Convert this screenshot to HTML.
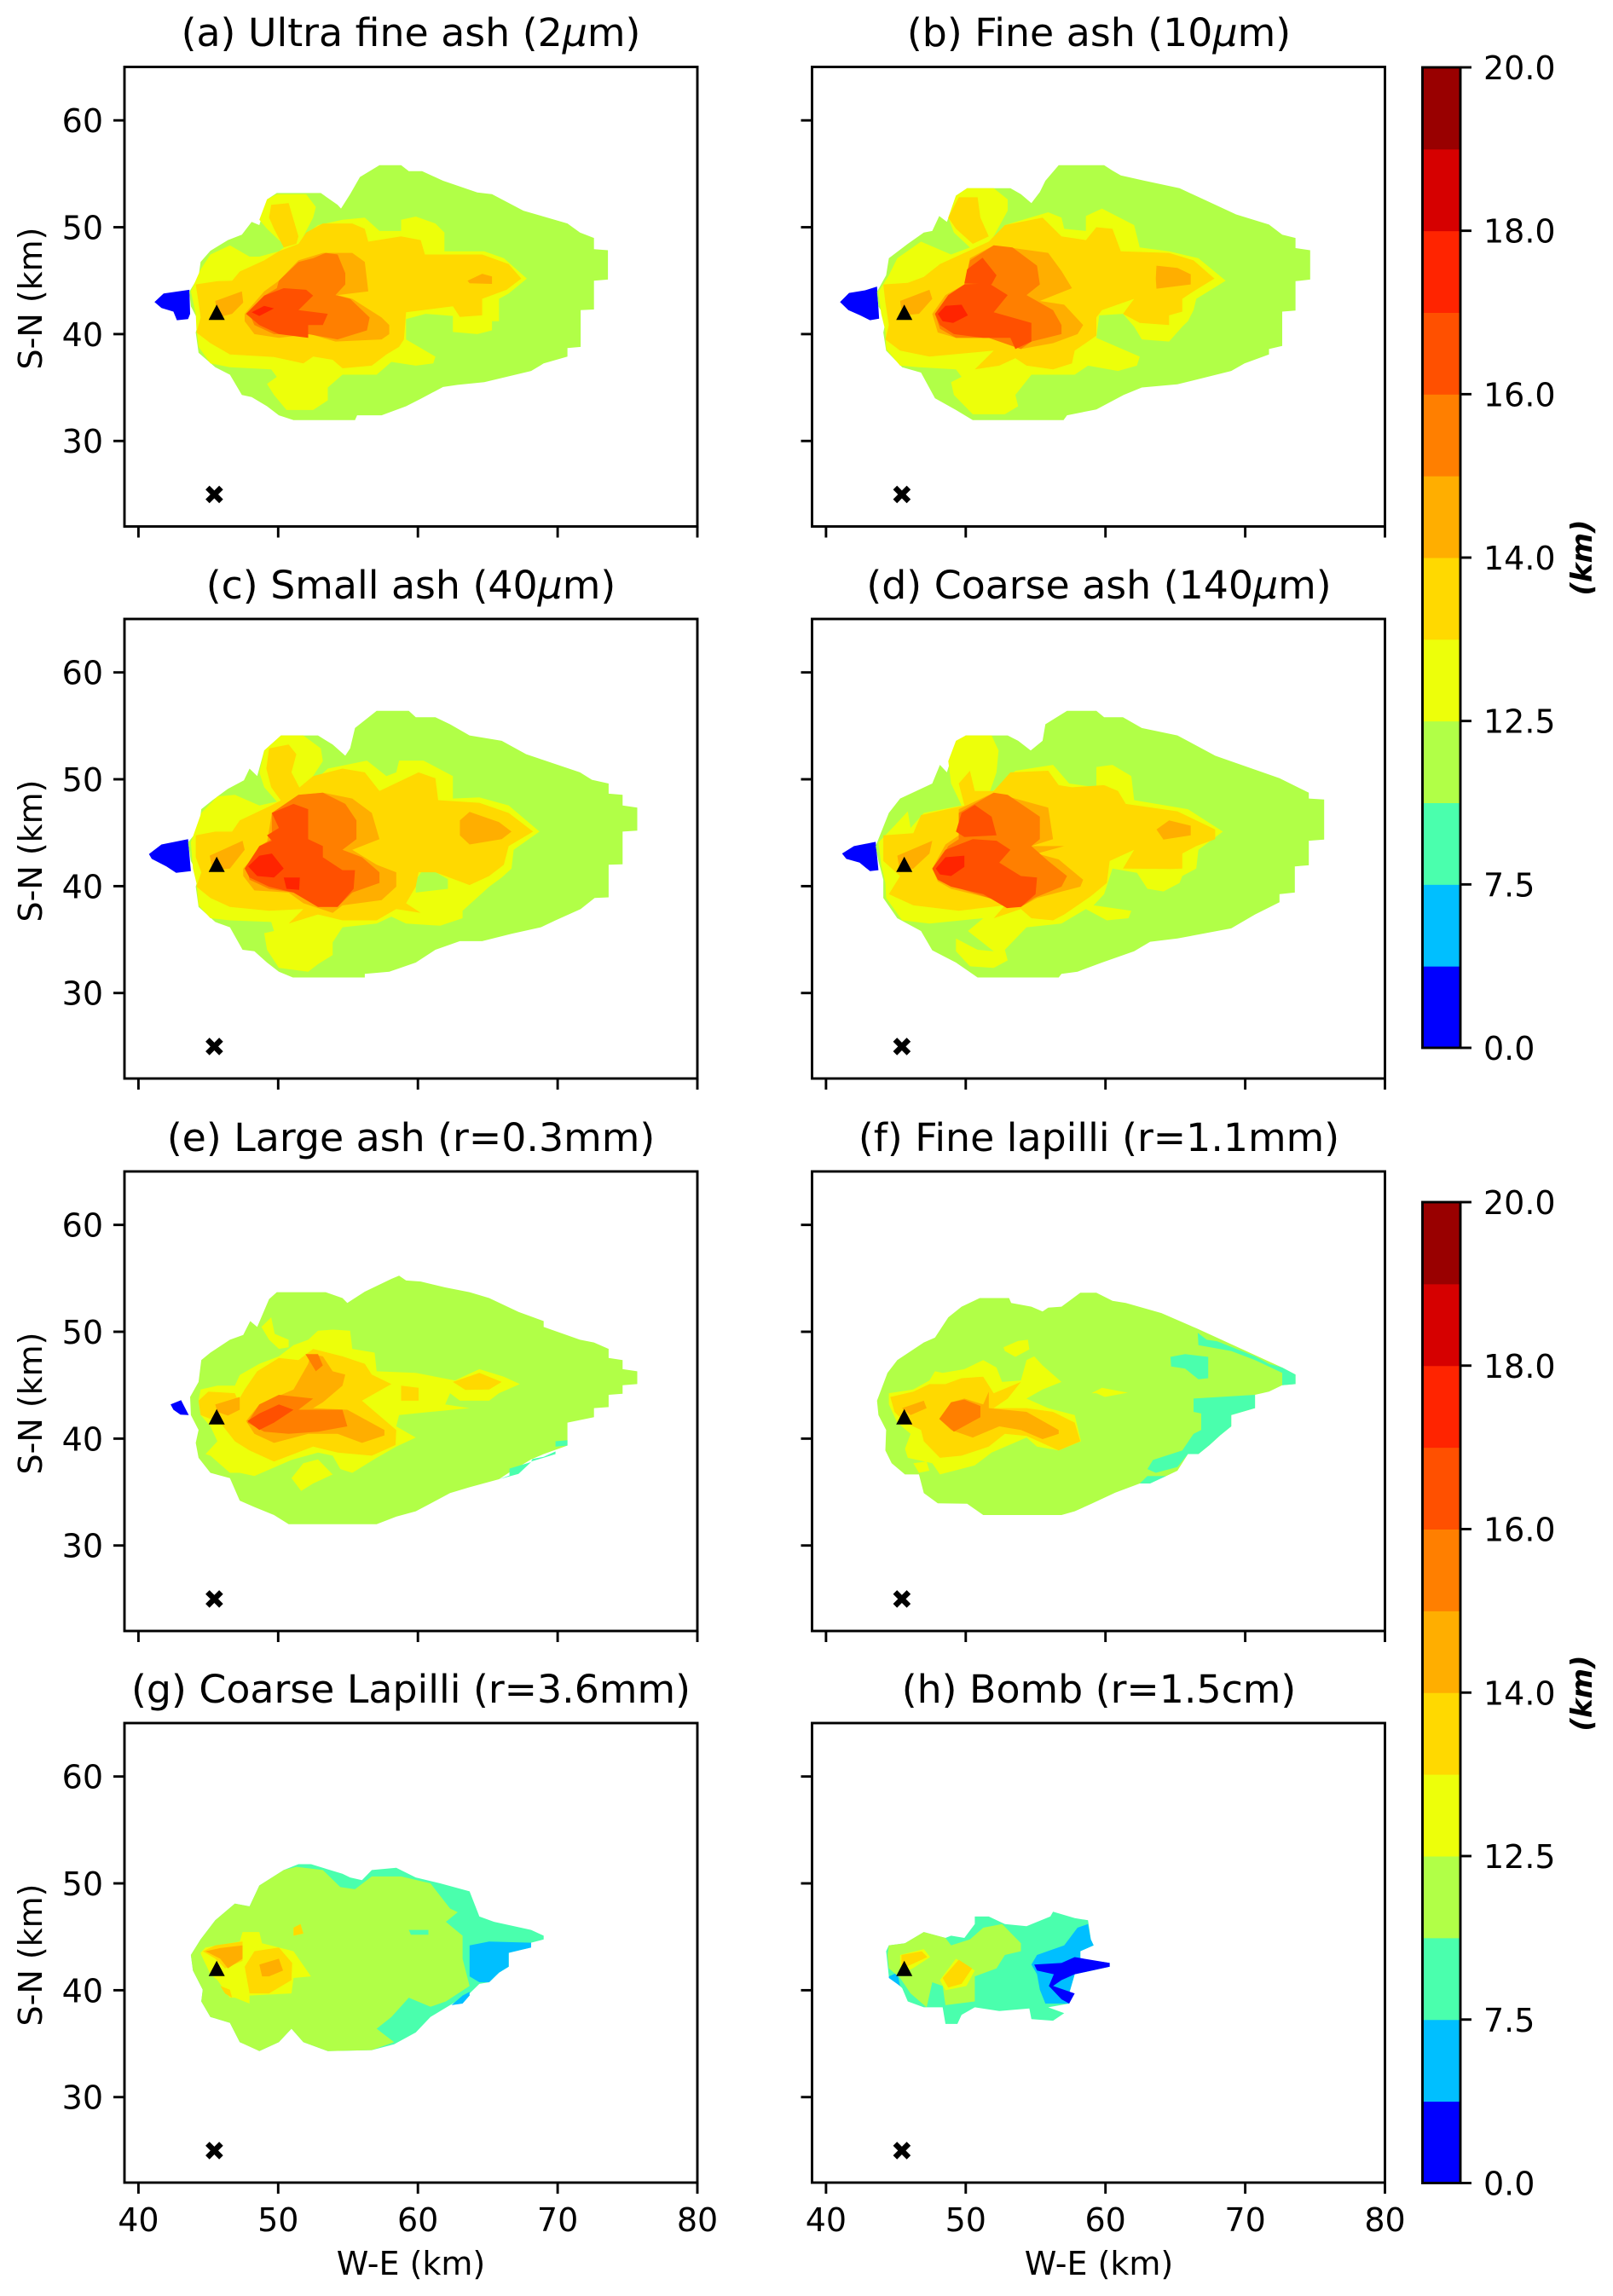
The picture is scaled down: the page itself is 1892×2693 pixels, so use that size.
<!DOCTYPE html>
<html lang="en">
<head>
<meta charset="utf-8">
<title>Plume top height by particle size</title>
<style>
html,body{margin:0;padding:0;background:#fff}
svg{display:block}
text{font-family:"DejaVu Sans","Liberation Sans",sans-serif;fill:#000}
.ttl{font-size:45.8px;text-anchor:middle}
.lab{font-size:38px;text-anchor:middle}
.tick{font-size:38px}
.cbl{font-size:34px;font-weight:bold;font-style:italic;text-anchor:middle}
</style>
</head>
<body>
<svg id="fig" xmlns="http://www.w3.org/2000/svg" width="1892" height="2693" viewBox="0 0 1892 2693">
<rect width="1892" height="2693" fill="#fff"/>
<g id="marks"></g>
<text class="ttl" x="482" y="54">(a) Ultra fine ash (2<tspan font-style="italic">μ</tspan>m)</text>
<text class="ttl" x="1289" y="54">(b) Fine ash (10<tspan font-style="italic">μ</tspan>m)</text>
<text class="ttl" x="482" y="702">(c) Small ash (40<tspan font-style="italic">μ</tspan>m)</text>
<text class="ttl" x="1289" y="702">(d) Coarse ash (140<tspan font-style="italic">μ</tspan>m)</text>
<text class="ttl" x="482" y="1350">(e) Large ash (r=0.3mm)</text>
<text class="ttl" x="1289" y="1350">(f) Fine lapilli (r=1.1mm)</text>
<text class="ttl" x="482" y="1997">(g) Coarse Lapilli (r=3.6mm)</text>
<text class="ttl" x="1289" y="1997">(h) Bomb (r=1.5cm)</text>
<text class="lab" transform="translate(49,350) rotate(-90)">S-N (km)</text>
<text class="lab" transform="translate(49,998) rotate(-90)">S-N (km)</text>
<text class="lab" transform="translate(49,1646) rotate(-90)">S-N (km)</text>
<text class="lab" transform="translate(49,2293) rotate(-90)">S-N (km)</text>
<text class="lab" x="482" y="2668">W-E (km)</text>
<text class="lab" x="1289" y="2668">W-E (km)</text>
<text class="cbl" transform="translate(1867,654) rotate(-90)">(km)</text>
<text class="cbl" transform="translate(1867,1986) rotate(-90)">(km)</text>
</svg>
<script>
// ---- axis and colorbar values ----
const xTicks = [40, 50, 60, 70, 80];
const yTicks = [30, 40, 50, 60];
const cbarTickLabels = ["0.0", "7.5", "12.5", "14.0", "16.0", "18.0", "20.0"];
const cbarTickBands = [0, 2, 4, 6, 8, 10, 12];
const bandColors = ["#0000ff","#00bfff","#4affad","#b1ff47","#edff0a","#ffd900","#ffae00","#ff7f00","#ff5000","#ff2400","#d60000","#990000"];
const ventLocation = [45.6, 42];
const stationLocation = [45.43, 25];

// ---- contour outlines in km (x,y,x,y,...) ----
const aBlue = [41.15,43,41.8,43.8,42.85,44,43.65,44.15,43.7,41.9,43.55,41.4,42.75,41.3,42.5,42.1,41.65,42.45];
const aGreen = [43.64,43.97,44.3,45.4,44.45,46.75,45.15,47.8,46.4,48.8,47.4,49.3,48.1,50.5,48.65,50.2,49.2,52.6,49.9,53.2,53.05,53.2,54.25,52.1,54.5,51.75,55.15,53.1,55.85,54.7,57.25,55.8,58.8,55.8,59.35,55.25,60.3,55.25,61.8,54.35,64.25,53.25,65.3,53.1,67.55,51.55,70.7,50.35,71.6,49.5,72.6,49,72.6,47.95,73.6,47.85,73.6,45.1,72.6,45,72.6,42.3,71.65,42.25,71.65,38.8,70.7,38.7,70.7,37.9,69,37.25,68.1,36.55,64.75,35.5,62.85,35.25,61.8,35.05,60.2,33.95,59.15,33.25,57.4,32.4,55.65,32.4,55.5,31.95,51.1,31.95,50.05,32.4,49.2,33.25,48.1,34.1,47.4,34.3,46.55,36.2,45.5,36.9,44.3,38.25,44.1,40.15,44.3,41.2,43.75,42.6];
const aYellow = [43.75,44,44.45,46.05,45.15,47.45,46.55,48.3,47.95,47.25,48.65,47.25,50.05,47.75,50.6,48.3,50.05,48.8,49.2,49.85,48.65,50.7,49.2,52.6,49.9,53.1,52,53.1,52.7,51.9,52.5,50.9,51.8,49.15,52.85,50.2,54.6,50.7,56.2,50.9,57.25,49.65,58.8,49.65,58.8,50.7,59.85,51,61.25,50.35,61.9,49.5,61.9,47.75,64.75,47.75,66.15,47.1,67.8,45.2,66.5,43.8,65.8,43.3,65.8,41.2,65.3,41.2,65.3,40.35,64.25,40,62.5,40.2,62.5,41.7,60.55,41.9,59.15,41.4,59.15,39.5,61.25,37.9,61.1,37.25,59.85,37.05,58.1,37.4,57.05,36.2,54.6,36.2,53.55,35,53.55,33.8,52.5,32.9,50.6,32.9,49.7,34.3,49.2,35.35,49.9,36,49.5,36.7,46.55,36.9,45.15,37.25,44.3,38.8,44.15,40.5,44.1,41.9];
const aGold = [44.1,44.65,45.65,44.95,46.7,45,47.25,45.85,49,46.9,50.05,47.75,51.45,48.45,52,49.5,53.2,50.35,55.3,50.35,56.2,49.85,56.45,48.65,58.8,49.15,60.2,48.8,60.5,47.45,64.6,47.45,66.5,46.55,67.4,45.2,66.35,44.15,64.6,43.3,64.6,41.75,63,41.6,62.5,42.6,59.15,42.05,59,39.5,58.65,38.8,57.75,38.1,56.7,37.05,54.6,36.8,53.9,37.6,52.5,37.9,51.8,37.25,49.7,37.85,46.55,38.1,45.15,39.15,44.15,40.15,44.45,41.55,44.3,42.95];
const aGoldFinger = [49.5,52.1,50.75,52.25,51.45,49.15,51.3,48.45,50.4,48.1,49.7,49.85,49.35,50.9];
const aAmberVent = [45.5,43.1,47.4,44,47.5,42.95,46.7,41.9,45.65,41.55];
const aAmberMain = [47.6,41.9,49,44,50.05,45,51.45,46.9,53.2,47.6,55.3,47.6,56.2,46.75,56.45,44,54.25,43.65,55.3,43.3,57.4,41.55,57.95,40.85,57.95,40,57.4,39.5,54.1,39.3,52.3,40,50.05,39.65,48.3,40,47.6,41.2];
const aAmberTail = [63.55,45,64.6,45.65,65.3,45.4,65.3,44.7,63.7,44.75];
const aOrange = [47.95,41.9,49,43.6,49.9,44.3,50.05,45,51.45,46.75,52.5,47.1,53.4,47.6,54.25,47.45,54.8,45.7,54.8,44.65,54.1,43.65,55.15,43.3,56.55,41.55,56.35,40.35,54.25,39.5,52.15,40,49.7,40,48.3,40.85];
const aDeep = [47.7,41.9,49,43.6,50.4,44.3,52,44.15,52.5,43.6,51.45,42.25,53.55,41.9,53.2,40.85,52.15,40.85,52.15,39.65,50.05,40,48.65,40.85];
const aRed = [48.1,42.05,49,42.65,49.7,42.4,48.65,41.7];

const bBlue = [41,43,41.65,43.85,42.8,44.1,43.65,44.45,43.8,41.45,43.15,41.3,42.45,41.75,41.6,42.25];
const bGreen = [43.65,43.97,44.3,45.5,44.5,47.1,45.85,48.45,47,49.5,47.6,49.65,48.1,51.05,48.65,50.5,49.3,52.95,50.1,53.65,53.2,53.65,53.95,53.1,54.7,52.25,55.3,53.3,55.7,54.35,56.65,55.8,59.9,55.8,60.5,55.3,61.1,54.85,62.8,54.35,65.3,53.65,66.7,52.8,69.35,51.2,71.7,50.25,72.65,49.3,73.6,49,73.6,48.05,74.65,47.85,74.65,45.1,73.6,44.95,73.6,42.2,72.65,42.1,72.65,38.9,71.7,38.6,71.7,38.1,69.95,37.25,69,36.55,65.15,35.3,62.6,35,61.3,34.3,59.35,32.95,57.25,32.4,57,31.95,50.5,31.95,49.3,32.9,47.8,34,46.8,36.4,45.45,36.9,44.3,38.45,44.1,40.15,44.3,41.4,43.75,42.6];
const bYellow = [43.75,43.97,44.5,45.5,45.1,47.1,46.8,48.65,48.95,47.45,50.3,48.1,49.15,49.5,48.75,50.9,49.3,52.95,50.1,53.65,52,53.65,53,52.6,53,51.55,51.85,48.8,52.8,50.2,55.9,51.4,56.85,50.9,57.05,49.85,58.6,49.65,58.6,51.05,59.75,51.75,62.05,50.2,62.45,48.1,64.55,47.75,66.65,47.1,68.6,45,66.5,43.3,66.3,42.25,65.9,41.2,65.5,40.7,64.55,39.3,62.6,39.5,62.05,40.7,61.25,41.9,59.55,41.75,59.35,39.65,62.45,37.9,62.25,37.05,60.9,36.55,58.75,37.05,57.8,36.2,54.7,36.2,53.55,34.3,53.75,33.25,52.8,32.5,50.5,32.5,49.15,34.3,48.95,35.5,49.7,36,49.3,36.7,46.65,36.9,45.3,37.05,44.3,38.6,44.25,40.3,43.95,41.9];
const bGold = [44.1,44.65,45.85,44.8,47,45.35,48.15,46.55,49.9,47.6,51.65,48.65,52.8,50.2,55.5,50.9,56.85,49.15,58.6,48.8,59.35,50,60.5,49.85,61.1,47.75,64.55,47.6,66.3,46.9,67.8,45.2,66.3,44,65.5,43.3,65.5,42.1,64.55,41.75,64.55,40.85,62.45,41.05,61.25,41.9,62.05,43.3,59.75,42.25,59.35,41.55,59.35,39.85,57.8,38.45,57.6,37.25,56.25,36.7,54.35,37.05,53.55,37.75,52.4,37.05,50.65,36.7,52,38.45,47.4,37.9,45.3,38.45,44.25,39.5,44.5,40.85,44.25,42.95];
const bGoldFinger = [49.5,52.8,50.85,52.8,51.05,50.9,51.65,49.15,50.5,48.45,49.3,49.85,48.75,50.9];
const bAmberVent = [45.3,43.1,47.4,44.15,47.6,43.3,46.65,41.9,45.45,41.75];
const bAmberMain = [47.6,41.9,48.55,43.65,49.9,44.65,50.3,47.1,52,48.3,55.9,47.6,56.85,45.9,57.6,44.3,55.3,43.1,57.05,42.75,58.4,40.85,58,40,56.25,39.15,53.95,38.6,51.65,39.65,49.3,39.65,48,40.15];
const bAmberTail = [63.6,45.2,63.65,46.4,65.15,46.2,66.1,45.6,66.1,44.65,63.65,44.25];
const bOrange = [47.8,41.9,48.75,43.65,49.9,44.65,50.3,46.9,52,48.3,53.35,48.1,55.1,46.4,55.3,44.65,54.35,43.65,56.25,42.25,56.85,40.85,56.85,40,54.7,39.3,53.95,38.6,51.65,39.65,49.3,39.65,48.15,40.5];
const bDeep = [47.8,41.9,48.75,43.65,49.9,44.65,51.65,44.75,53,43.65,52,42.05,54.7,41.05,54.7,39.3,53.55,38.6,53.2,39.65,51.25,39.65,49.15,40,48.15,40.85];
const bDeepUpper = [50.1,46.05,51.2,47.15,52.2,45.5,51.85,44.65,49.9,44.75];
const bRed = [48,41.9,48.55,42.65,49.7,42.75,50.15,41.75,49.1,41.05,48.35,41.2];

const cBlue = [40.75,43,41.65,43.9,43.55,44.4,43.75,41.4,42.7,41.25,42,41.85,40.95,42.55];
const cGreen = [43.55,44.1,44.3,45.3,44.5,47.2,45.3,48.05,46.4,49.1,47.55,49.9,47.95,51,48.5,50.3,49,52.7,50.2,54.1,52.85,54.1,53.9,53.25,54.8,52.2,55.15,52.9,55.5,54.8,57.05,56.4,59.35,56.4,59.85,55.8,61.25,55.8,62.3,55.15,63.7,54.1,66,53.6,67.75,52.35,71.6,50.65,72.45,49.95,73.65,49.6,73.65,48.65,74.65,48.55,74.65,47.55,75.7,47.35,75.7,45.2,74.65,45.1,74.65,42.05,73.65,42,73.65,38.95,72.65,38.9,71.65,37.85,69.85,36.8,68.8,36.15,66.7,35.55,64.6,34.85,63,34.85,61.25,34.05,59.85,32.85,57.95,32,56.2,31.8,56.2,31.45,51.05,31.45,50.05,32,49.2,32.85,48.3,33.9,47.45,34.05,46.55,36.15,45.5,36.65,44.3,38.05,44.1,39.95,44.3,40.95,43.75,42.35];
const cYellow = [43.75,44.1,44.5,46.85,45.65,48.4,46.9,48.55,48.65,47.55,49.9,47.9,49,49.25,48.65,50.65,49,52.7,50.2,54.1,51.8,54.1,53.05,52.9,53.2,51.7,51.8,48.9,53.55,51,56.35,51.75,57.75,50.3,58.45,50.65,58.65,51.75,60.4,51.75,62.5,50.3,62.5,48.2,64.4,48.3,66.5,47.55,68.7,45.1,66.85,43.4,66.7,41.65,66,40.8,65.1,39.95,63.2,37.7,63.2,37,61.6,36.3,59.15,36.5,58.1,37.15,57.05,36.5,54.6,36.15,53.9,34.75,53.9,33.55,52.85,32.7,52.15,32,50.05,32.35,49.2,34.05,49,35.6,49.7,35.8,49.5,36.65,46.55,36.8,45.15,37,44.3,38.2,44.15,40.3,43.9,41.65];
const cGreenHole = [59.85,40.6,60.55,41.85,62.15,40.65,62.15,39.75,59.85,39.4];
const cGold = [44.1,44.75,45.5,45.1,46.7,45.1,47.25,46.15,49.5,47.55,50.75,48.4,52.5,50.3,54.6,51,56.2,50.65,57.25,48.9,60.05,50.65,61.25,50.1,61.45,48.05,64.4,47.8,66.5,46.85,68.25,45.1,66.5,43.75,66.15,42,65.1,40.95,63.7,40.1,61.25,41.3,60.05,41.3,59.85,39.95,59.15,38.4,60.2,37.5,58.45,37.85,57.05,36.8,54.6,36.8,52.85,37.35,50.75,36.5,51.8,37.85,49.35,37.7,46.55,38.05,45.15,38.9,44.15,39.95,44.5,41.3,44.1,42.7];
const cGoldFinger = [49.35,52.9,50.75,53.25,51.3,52.35,50.95,50.65,51.65,48.9,50.25,47.9,49.5,49.25,49.15,51];
const cAmberVent = [45.1,42.85,47.45,44.25,47.6,43.4,46.55,41.65,45.3,41.5];
const cAmberMain = [47.5,41.65,49.2,44.1,49.55,46.85,51.45,48.55,53.2,48.75,55.3,48.2,56.7,46.85,57.25,44.4,55.3,43.4,57.05,42,58.45,41.3,58.45,39.95,57.4,38.7,54.6,38.2,53.9,37.5,51.8,38.4,50.75,39.4,48.3,39.6,47.5,40.95];
const cAmberTail = [63,46.15,63.7,46.95,65.8,46,66.7,45.1,66,44.4,63.7,43.9,63,44.75];
const cOrange = [47.8,41.65,48.65,43.75,49.55,44.4,49.55,46.85,51.45,48.55,53.2,48.75,54.8,47.7,55.6,46.15,55.6,44.4,54.6,43.4,56,42.7,57.25,41.3,57.25,40.3,55.3,39.4,54.25,38.05,52.85,38.05,51.1,39.4,49.35,39.75,47.95,40.6];
const cDeep = [47.6,41.65,48.65,43.75,49.55,44.25,49.2,44.75,50.05,45.45,49.55,46.85,51.1,47.7,52.15,47.2,52.15,44.4,53.2,43.75,53.2,42.7,54.6,41.5,55.5,41.5,55.4,39.75,54.25,38.05,52.85,38.05,51.1,39.4,49.35,39.95,47.95,40.8];
const cRed = [47.85,41.85,48.65,42.85,49.55,43.05,50.4,41.65,49.7,40.8,48.5,40.95];
const cRedSmall = [50.4,40.8,51.55,40.8,51.5,39.65,50.6,39.75];

const dBlue = [41.15,43.05,42,43.75,43.55,44.15,43.75,41.5,43.15,41.4,42.4,42.2,41.45,42.55];
const dGreen = [43.55,43.75,44.5,46.85,45.3,48.2,47.6,49.6,48.15,51.35,48.65,50.65,49.3,53.4,50,54.1,53,54.1,53.75,53.6,54.65,52.7,55.5,53.6,55.7,55.15,57.25,56.4,59.35,56.4,59.9,55.8,61.25,55.8,62.6,54.8,65.15,54.1,67.85,52.2,72.45,50.1,74.55,48.75,74.55,48.2,75.65,48.1,75.65,44.35,74.55,44.25,74.55,41.95,73.55,41.85,73.55,39.4,72.45,39.25,72.45,38.5,70.7,37.35,69,36.05,65.15,35.1,63.2,34.8,62.05,33.9,59.75,32.85,58,32,56.85,31.8,56.65,31.45,50.85,31.45,49.3,32.85,47.6,34,46.8,35.8,45.1,37,44.1,38.9,44.1,40.6,43.75,42.35];
const dYellow = [43.75,44.1,44.9,45.65,45.85,47,46.05,45.45,47,46.85,49.7,47.55,48.95,49.6,48.75,51.7,49.3,53.6,50,54.1,51.85,54.1,52.35,52.7,52.2,50.65,51.65,48.55,53.55,50.8,56.25,51.35,57.4,49.6,59.35,49.25,59.35,51.15,60.5,51.35,61.85,50.3,62.05,48.05,65.9,47.2,68.4,45.1,66.65,43.4,66.5,41.65,65.5,40.95,65.3,40.3,64.15,39.5,63,39.75,62.25,41.25,60.5,41.65,59.9,39.25,59.15,38.2,61.85,37.7,61.65,37,60.1,36.8,58.6,37.85,56.85,36.5,54.35,36.15,52.8,34.05,53,33.05,52,32.35,50.3,32.5,49.3,33.9,49.3,35.1,50.85,34.05,52,33.9,50.15,35.8,51.25,37,47.4,36.5,45.45,36.8,44.3,38.9,44.25,40.3,43.95,42];
const dGold = [44.1,44.75,46.25,44.95,46.8,46.65,49.9,47.55,49.5,49.6,50.3,50.8,50.65,48.9,52,48.9,53.2,50.65,55.9,50.8,56.65,49.45,57.6,49.25,59.9,49.45,60.9,48.9,61.45,47.7,65.15,47,67.85,45.3,67.85,44.4,66.5,43.75,65.5,43.05,65.5,41.65,64.75,41.6,61.25,41.65,62.05,43.4,60.3,42.35,60.1,40.3,58.95,39.05,57.05,37.35,56.25,36.8,54.7,37,53.95,37.85,52,37,52.8,38.2,49.5,37.7,46.25,38.2,44.5,39.25,45.3,40.95,44.1,42.35];
const dAmberVent = [45.1,42.85,47.6,44.25,47.4,43.05,46.25,41.65,45.3,41.3];
const dAmberMain = [47.6,41.65,48.55,43.9,49.5,44.75,49.5,47.2,52,48.75,55.9,47.35,56.25,44.4,54.7,43.75,57.05,43.75,55.1,43.05,56.65,42.5,58.4,40.6,58.2,39.95,55.1,38.9,53.95,38.05,51.65,38.9,48.95,39.75,48,40.45];
const dAmberTail = [63.65,45.3,64.55,46.15,66.1,45.65,66.1,44.75,64.15,44.35];
const dOrange = [47.8,41.65,48.75,43.75,49.5,44.4,49.5,46.85,52,48.75,53,48.55,55.3,46.5,55.3,44.4,54.7,43.75,55.9,42.35,57.25,40.95,56.85,39.95,54.9,38.9,53.95,38.05,51.65,38.9,49.15,39.95,48.15,40.6];
const dDeep = [47.6,41.65,48.55,43.4,50.5,44.4,52.2,44.25,53.2,43.4,52.4,42.2,53.95,40.95,55.1,40.8,55,39.25,53.95,38.05,52.95,37.95,51.25,39.25,48.95,39.95,48,40.6];
const dDeepUpper = [49.3,45.1,49.7,46.85,50.65,47.6,51.85,46.5,52.2,44.75,49.9,44.6];
const dRed = [47.85,41.65,48.55,42.7,49.9,42.85,49.9,41.8,48.95,40.95,48.15,41.1];

const eBlue = [42.3,43.2,43.05,43.6,43.6,42.2,43,42.25,42.5,42.7];
const eGreen = [43.7,43.9,44.3,45.3,44.5,47.35,45.15,48.05,46.55,49.25,47.5,49.7,48,51,48.5,50.45,49.35,53.05,49.9,53.7,53.4,53.7,54.6,53.15,54.95,52.7,56.2,53.75,58.1,54.95,58.65,55.25,59.15,54.8,60.2,54.7,61.95,54.15,63.7,53.7,65.1,53.15,67.2,51.85,69,51,69,50.45,71.6,49.25,72.6,49,73.65,48.4,73.65,47.55,74.65,47.35,74.65,46.5,75.7,46.3,75.7,45.1,74.65,45,74.65,44.2,73.65,44.1,73.65,42.95,72.6,42.85,72.6,42,70.7,41.5,70.7,39.35,69,38.55,68.1,38.05,66.5,36.8,65.8,36.2,63.7,35.45,62.3,34.9,59.85,33.2,58.45,32.7,57.05,32,50.75,32,49.7,32.85,48.3,33.6,47.25,34.2,46.55,36.3,45.15,36.8,44.3,38.2,44.1,39.6,44.3,40.8,43.75,42.2];
const eTealA = [69.85,39.75,70.7,39.85,70.7,39.35,69.85,39.25];
const eTealB = [68.2,38.1,69,38.3,69.85,38.8,69.85,38.55,68.1,37.85];
const eTealC = [66.55,37.2,68.1,37.8,67.2,36.7,65.8,36.2,66.55,36.55];
const eYellow = [44.3,43.55,44.45,44.6,45.65,44.95,46.9,44.95,47.25,45.95,48.65,47,50.05,47.7,51.1,48.75,52.15,49.25,52.85,50.1,53.9,50.2,55.15,50.1,55.3,48.4,56.9,48.05,57.05,46.3,59.85,46.15,62.65,45.45,64.4,46.5,66.15,45.8,67.3,45.1,65.8,44.25,65.1,43.55,63,43.55,62.3,44.25,61.95,43.2,63.7,42.85,60.9,42.5,58.65,42.2,58.45,41.15,59.85,40.1,58.45,39.25,57.05,38.2,55.3,36.8,54.45,37.15,53.9,38.4,52.85,38.7,50.95,38,48.3,36.5,47.25,36.8,46.55,36.8,45.15,38.4,44.8,38.55,45.65,39.75,45.15,41.15,44.45,42.2];
const eYellowLow = [50.95,36.3,51.8,37.7,52.85,38.05,53.9,36.65,52.5,35.8,51.65,35.1];
const eYellowTop = [48.8,50.45,49.5,51.35,49.75,49.8,50.75,49.25,50.75,48.55,50.05,48.4,49.35,49.25];
const eGoldMain = [46.55,42.2,47.6,44.6,48.5,46.3,50.05,47.55,51.45,47.35,52.5,48.4,54.6,47.7,56.2,47,56.7,46,58.1,45.1,56,43.55,58.45,40.8,58.4,39.4,56.7,38.4,54.25,38.7,52.5,39.25,49.7,37.85,47.95,38.9,46.9,39.75,45.85,41.5];
const eGoldLeft = [44.3,43.55,45,44.4,46.9,44.25,47.25,43.2,46.2,41.5,45.15,41.85,44.45,42.2];
const eGoldTail = [62.5,45.3,64.4,46.15,66,45.3,65.1,44.6,63.4,44.55];
const eGoldMid = [58.8,44.95,60.05,44.75,60.05,43.55,58.8,43.55];
const eAmberVent = [45.5,43.2,47.25,43.9,47.25,42.7,46.4,42.15,45.65,42.5];
const eAmberMain = [47.7,41.65,48.65,43.2,51.1,44.6,52.15,47,52.35,47.9,53.2,47.7,53.9,46.3,54.8,46,54.6,44.95,53.2,43.4,52.5,42.85,54.95,42.7,57.6,40.8,57.6,40.3,56,39.6,54.25,40.45,52.15,40.45,49.7,39.6,48.3,40.45];
const eOrange = [47.8,41.5,48.65,43.2,50.05,44.1,52.5,43.75,51.45,42.7,54.6,42.7,54.95,41.15,52.85,40.65,50.75,40.45,49,40.65];
const eOrangeTop = [51.95,47.9,52.85,47.9,53.2,46.85,52.7,46.3];
const eDeep = [47.8,41.65,48.65,42.35,50.05,43.2,51.1,42.7,49.7,41.5,48.65,40.8];

const fGreen = [43.65,43.55,44.4,46.15,45.1,47.35,47,49,47.8,49.45,48.75,51.35,49.7,52.35,51,53.15,53.1,53.15,53.25,52.7,54.7,52.35,55.5,51.9,55.9,52.25,56.85,52.35,58.2,53.65,59.35,53.65,60.5,52.9,61.45,52.7,64,51.75,66.55,50.3,72.65,46.65,73.6,46,73.6,45.1,72.65,45,71.7,44.4,70.7,44.1,70.7,42.85,69,42.2,69,41.15,68.2,40.3,67.45,39.4,66.65,38.55,65.9,38.55,65.15,37,64.35,36.5,62.45,35.8,60.7,34.95,59,33.9,57.8,33.2,56.85,32.85,51.25,32.85,50.1,33.9,48,33.95,47,34.9,46.65,36.65,45.65,36.65,44.7,37.7,44.25,38.9,44.3,40.8,43.75,42.2];
const fTealTop = [66.6,49.9,67.25,49.25,68,49.1,69.75,48.2,70.7,47.7,71.7,47,72.65,46.65,73.6,46,73.6,45.1,72.65,45,72.65,46.15,70.7,47.35,69,48.2,66.65,48.75];
const fTealBlob = [64.65,47.65,65.7,47.9,67.35,47.65,67.35,45.65,66.65,45.55,65.7,46.55,64.7,46.75];
const fTealLow = [66.3,43.75,70.7,44.1,70.7,42.85,69,42.2,69,41.15,68.2,40.3,67.45,39.4,66.65,38.55,65.9,38.55,65.15,37.35,63.6,36.8,63,37.15,63.4,38,65.5,38.9,66.3,40.45,66.85,40.8,66.85,42.35,66.3,42.5];
const fTealTip = [62.45,35.8,63,36.5,64.35,36.5,63.2,35.8];
const fYellow = [44.5,44.25,46.25,44.6,47.4,45.45,47.8,46.3,48.35,46.15,49.9,46.5,51.25,47.35,52.2,46.65,52.6,45.3,53.95,45.45,54.35,47.35,54.9,47.7,55.5,46.85,56.85,45.3,55.5,44.6,54.35,43.75,55.9,42.85,57.8,42.2,58.25,39.75,56.65,38.9,55.1,39.25,54.35,40.1,51.85,38.7,50.65,37.5,48.15,36.65,47.6,37.7,45.85,38.2,45.65,39.05,46.05,40.45,45.1,41.5,44.5,43.2];
const fYellowTop = [52.7,48.55,53.75,49.15,54.45,49.25,54.55,48.35,53.55,47.65,52.8,48.2];
const fYellowMid = [59,44.25,59.75,44.75,61.6,44.3,59.95,43.9,59.35,44.25];
const fYellowLow = [46.25,37.7,47.2,37.85,47.4,37,46.65,36.8];
const fGold = [44.6,43.9,46.25,44.4,47.4,45.1,48.55,45.1,49.7,45.65,51.25,45.8,52,44.25,53.95,45.3,53,43.75,52,42.85,54.35,42.85,56.25,42.5,57.8,41.5,58.2,39.75,56.65,38.9,54.35,40.25,52.8,40.45,51.65,39.25,49.7,38.4,48.15,38.2,47,39.75,46.8,40.8,45.65,41.5,44.9,42.5];
const fAmberVent = [45.45,42.85,47,43.55,47.2,42.85,46.05,42.2];
const fAmberMain = [48.1,41.85,48.95,43.4,49.9,43.75,51.25,43.2,51.65,44.4,51.65,42.85,54.35,42.5,56.65,40.8,56.65,40.45,55.5,39.95,53.95,40.8,52.4,41.15,50.5,40.1,48.95,40.8];
const fOrange = [48.1,41.85,48.95,43.4,49.9,43.65,51.05,43.05,51.05,42,49.15,40.65];

const gTeal = [43.75,43.3,44.45,44.75,45.5,46.55,46.9,48.1,47.95,47.85,48.65,49.8,50.4,51.25,51.45,51.8,52.35,51.8,53.2,51.45,54.6,50.9,55.15,50.55,56,50.3,56.7,51.25,58.45,51.45,59.85,50.55,61.6,50,63.7,49.25,64.4,46.9,65.45,46.4,68.1,45.65,69,45.1,69,44.75,68.1,44.45,68.1,44,66.5,43.5,66.5,42.2,65.8,41.65,65.1,40.75,64.4,40.6,63.7,39.7,62.3,38.6,60.9,37.5,59.85,36.05,58.3,34.95,56.7,34.4,53.55,34.3,51.8,35.15,50.95,36.4,50.05,35.15,48.65,34.3,48.3,34.6,47.25,35.15,46.55,36.95,45.15,37.5,44.5,38.95,44.6,40.05,43.9,41.85];
const gCyan = [63.7,44.2,65.1,44.55,68.1,44.45,68.1,44,66.5,43.5,66.5,42.2,65.8,41.65,65.1,40.75,64.4,40.75,63.7,41.3,63.7,42.95];
const gCyanSmall = [62.4,38.6,63.2,39.5,63.7,39.85,63.7,39.5,63.2,38.75];
const gGreen = [43.75,43.3,44.45,44.75,45.5,46.55,46.9,48.1,47.95,47.85,48.65,49.8,50.4,51.25,51.3,51.55,53.2,51.25,54.45,49.65,55.5,49.45,56.7,50.65,58.8,50.65,60.9,50,62.3,47.65,62.85,47.3,62,46.4,63.2,45.1,63.2,42.95,63.7,40.4,62,38.95,60.9,38.45,59.35,39.3,58.1,37.5,57.05,36.4,58.3,35.15,56.7,34.4,53.55,34.3,51.8,35.15,50.95,36.4,50.05,35.15,48.65,34.3,47.25,35.15,46.55,36.95,45.15,37.5,44.5,38.95,44.6,40.05,43.9,41.85];
const gTealBlob = [59.35,45.65,60.75,45.65,60.75,45.2,59.5,45.2];
const gYellow = [44.45,43.5,44.8,44,47.25,44.55,47.45,45.45,48.65,45.45,48.85,44.4,51.1,43.65,52.35,41.3,51.1,41.15,50.95,39.7,47.95,39.5,47.95,38.75,46.9,39.3,46.55,39.3,45.65,40.95,45.15,41.5,44.5,43.3];
const gYellowTop = [51.1,45.85,51.6,46.2,51.8,45.3,51.1,45.1];
const gGoldLeft = [44.6,43.65,45.5,44.2,47.45,44.55,47.45,42.75,46.2,42.05,45.5,42.95];
const gGoldMain = [47.6,42.2,48.3,43.65,50.05,44,51,42.55,50.95,40.95,49.35,39.7,47.95,39.7];
const gGoldTop = [51.1,45.85,51.6,46.2,51.8,45.3,51.1,45.1];
const gGoldLow = [45.85,40.4,46.55,40.05,46.7,39.3,46.2,39.7];
const gAmberLeft = [44.8,43.65,45.85,43.95,47.45,44.2,47.45,42.95,46.4,42.05,45.85,42.95];
const gAmberMain = [48.65,42.4,50.05,42.95,50.35,41.85,49.35,41.3,48.85,41.3];

const hTeal = [44.3,43.65,44.5,44.2,45.65,44.4,47,45.45,48.55,44.9,48.95,45.1,49.9,44.9,50.65,46.2,50.65,46.9,51.65,46.9,52.8,46.2,54.35,46,56.05,46.9,56.25,47.35,57.8,46.75,58.75,46.55,58.95,44.75,59.15,44.2,58.2,43.65,58.2,42.95,60.3,42.55,60.3,42.2,57.8,41.5,57.4,39.7,57.4,38.75,55.9,38.4,57.05,37.85,56.25,37.15,54.7,37.3,54.55,38.3,52.4,38.05,50.65,38.4,49.7,37.7,49.4,36.85,48.55,36.85,48.35,38.4,47,38.4,45.85,38.95,45.45,40.2,44.5,41.3];
const hCyan = [55.1,43.3,57.05,44.2,58,45.85,58.75,46.2,58.95,44.75,59.15,44.2,58.2,43.65,58.2,42.95,60.3,42.55,60.3,42.2,57.8,41.5,57.4,39.7,57.4,38.75,55.7,38.75,55.3,40.05,55.1,41.5,54.7,42.4];
const hCyanLeft = [44.5,41.3,45.1,41.65,45.3,40.4,44.5,41.15];
const hBlue = [54.9,42.4,56.85,42.55,57.8,43.1,60.3,42.55,60.3,42.2,57.8,41.5,56.85,40.95,56.25,40.4,57.8,39.7,57.4,38.75,56.85,39.15,55.95,40.4,56.3,41.5,55.1,41.85];
const hGreen = [44.4,43.3,44.5,44.2,45.65,44.4,47,45.45,48.55,44.9,48.95,44.2,50.3,44.75,51.25,45.85,52.6,46.2,53.95,44.4,53.95,43.65,52.8,43.3,52.2,42.05,50.65,41.3,50.65,38.95,48.55,38.6,48.35,40.4,47.6,40.75,47.2,38.4,46.05,39.7,45.3,41.15,44.5,42.05];
const hYellowLeft = [45.3,43.3,47,43.85,47.45,43.1,46.2,42.05,45.3,41.5];
const hYellowMain = [48.15,40.95,49.3,42.95,50.65,41.85,50.05,40.4,48.55,40];
const hGoldLeft = [45.4,43.3,46.85,43.65,47.25,43.1,46.1,42.4,45.4,42.05];
const hGoldMain = [48.35,41.15,49.5,42.85,50.45,42.05,49.7,40.6,48.75,40.25];

// ---- which band each outline is painted with, in paint order ----
const layersA = [[0,aBlue],[3,aGreen],[4,aYellow],[5,aGold],[5,aGoldFinger],[6,aAmberVent],[6,aAmberMain],[6,aAmberTail],[7,aOrange],[8,aDeep],[9,aRed]];
const layersB = [[0,bBlue],[3,bGreen],[4,bYellow],[5,bGold],[5,bGoldFinger],[6,bAmberVent],[6,bAmberMain],[6,bAmberTail],[7,bOrange],[8,bDeep],[8,bDeepUpper],[9,bRed]];
const layersC = [[0,cBlue],[3,cGreen],[4,cYellow],[3,cGreenHole],[5,cGold],[5,cGoldFinger],[6,cAmberVent],[6,cAmberMain],[6,cAmberTail],[7,cOrange],[8,cDeep],[9,cRed],[9,cRedSmall]];
const layersD = [[0,dBlue],[3,dGreen],[4,dYellow],[5,dGold],[6,dAmberVent],[6,dAmberMain],[6,dAmberTail],[7,dOrange],[8,dDeep],[8,dDeepUpper],[9,dRed]];
const layersE = [[0,eBlue],[3,eGreen],[2,eTealA],[2,eTealB],[2,eTealC],[4,eYellow],[4,eYellowLow],[4,eYellowTop],[5,eGoldMain],[5,eGoldLeft],[5,eGoldTail],[5,eGoldMid],[6,eAmberVent],[6,eAmberMain],[7,eOrange],[7,eOrangeTop],[8,eDeep]];
const layersF = [[3,fGreen],[2,fTealTop],[2,fTealBlob],[2,fTealLow],[2,fTealTip],[4,fYellow],[4,fYellowTop],[4,fYellowMid],[4,fYellowLow],[5,fGold],[6,fAmberVent],[6,fAmberMain],[7,fOrange]];
const layersG = [[2,gTeal],[1,gCyan],[1,gCyanSmall],[3,gGreen],[2,gTealBlob],[4,gYellow],[4,gYellowTop],[5,gGoldLeft],[5,gGoldMain],[5,gGoldTop],[5,gGoldLow],[6,gAmberLeft],[6,gAmberMain]];
const layersH = [[2,hTeal],[1,hCyan],[1,hCyanLeft],[0,hBlue],[3,hGreen],[4,hYellowLeft],[4,hYellowMain],[5,hGoldLeft],[5,hGoldMain]];

const panelKeys = ["a","b","c","d","e","f","g","h"];
const panelLayers = [layersA,layersB,layersC,layersD,layersE,layersF,layersG,layersH];

// ---- layout ----
const colLeft = [146, 952.5];
const rowTop = [78.5, 726, 1374, 2021];
const axW = 672, axH = 539;
const xMin = 39, xMax = 80, yMin = 22, yMax = 65;
const cbarX = 1668.5, cbarW = 44.5;
const cbarTop = [79, 1410], cbarBottom = [1229, 2560.5];
const lw = 2.9, tickLen = 13;

const NS = "http://www.w3.org/2000/svg";
const root = document.getElementById("marks");
function make(tag, attrs, parent){
  const e = document.createElementNS(NS, tag);
  for (const k in attrs) e.setAttribute(k, attrs[k]);
  parent.appendChild(e);
  return e;
}
function xScale(left, v){ return left + (v - xMin) / (xMax - xMin) * axW; }
function yScale(top, v){ return top + (yMax - v) / (yMax - yMin) * axH; }

panelKeys.forEach(function(key, i){
  const col = i % 2, row = Math.floor(i / 2);
  const L = colLeft[col], T = rowTop[row];
  const g = make("g", {}, root);
  
  

  panelLayers[i].forEach(function(layer){
    const band = layer[0], flat = layer[1];
    const pts = [];
    for (let p = 0; p + 1 < flat.length; p += 2) {
      pts.push(xScale(L, flat[p]).toFixed(1) + "," + yScale(T, flat[p + 1]).toFixed(1));
    }
    const poly = make("polygon", {points: pts.join(" "), fill: bandColors[band]}, g);
    
    
  });

  // vent triangle
  const vx = xScale(L, ventLocation[0]), vy = yScale(T, ventLocation[1]);
  const tri = make("polygon", {points: (vx) + "," + (vy - 9.5) + " " + (vx - 9.5) + "," + (vy + 8.5) + " " + (vx + 9.5) + "," + (vy + 8.5), fill: "#000"}, g);
  
  

  // station cross
  const sx = xScale(L, stationLocation[0]), sy = yScale(T, stationLocation[1]);
  const cross = make("path", {d: "M" + (sx - 8) + " " + (sy - 8) + "L" + (sx + 8) + " " + (sy + 8) + "M" + (sx + 8) + " " + (sy - 8) + "L" + (sx - 8) + " " + (sy + 8), stroke: "#000", "stroke-width": 6.5, fill: "none"}, g);
  
  

  // frame
  const frame = make("rect", {x: L, y: T, width: axW, height: axH, fill: "none", stroke: "#000", "stroke-width": lw}, g);
  
  

  // x ticks
  xTicks.forEach(function(v){
    const x = xScale(L, v);
    const t = make("line", {x1: x, x2: x, y1: T + axH, y2: T + axH + tickLen, stroke: "#000", "stroke-width": lw}, g);
    
    
    if (row === 3) {
      const lab = make("text", {x: x, y: T + axH + 57, class: "tick", "text-anchor": "middle"}, g);
      lab.textContent = String(v);
      
      
    }
  });

  // y ticks
  yTicks.forEach(function(v){
    const y = yScale(T, v);
    const t = make("line", {x1: L - tickLen, x2: L, y1: y, y2: y, stroke: "#000", "stroke-width": lw}, g);
    
    
    if (col === 0) {
      const lab = make("text", {x: L - 25, y: y + 14, class: "tick", "text-anchor": "end"}, g);
      lab.textContent = String(v);
      
      
    }
  });
});

// colorbars
cbarTop.forEach(function(top, c){
  const bottom = cbarBottom[c];
  const n = bandColors.length;
  const bandY = function(b){ return bottom - b * (bottom - top) / n; };
  const g = make("g", {}, root);
  
  
  bandColors.forEach(function(color, b){
    const r = make("rect", {x: cbarX, y: bandY(b + 1), width: cbarW, height: bandY(b) - bandY(b + 1) + 0.5, fill: color}, g);
    
    
  });
  const frame = make("rect", {x: cbarX, y: top, width: cbarW, height: bottom - top, fill: "none", stroke: "#000", "stroke-width": lw}, g);
  
  
  cbarTickLabels.forEach(function(label, k){
    const y = bandY(cbarTickBands[k]);
    const t = make("line", {x1: cbarX + cbarW, x2: cbarX + cbarW + tickLen, y1: y, y2: y, stroke: "#000", "stroke-width": lw}, g);
    
    
    const lab = make("text", {x: 1740, y: y + 14, class: "tick"}, g);
    lab.textContent = label;
    
    
  });
});
</script>
</body>
</html>
